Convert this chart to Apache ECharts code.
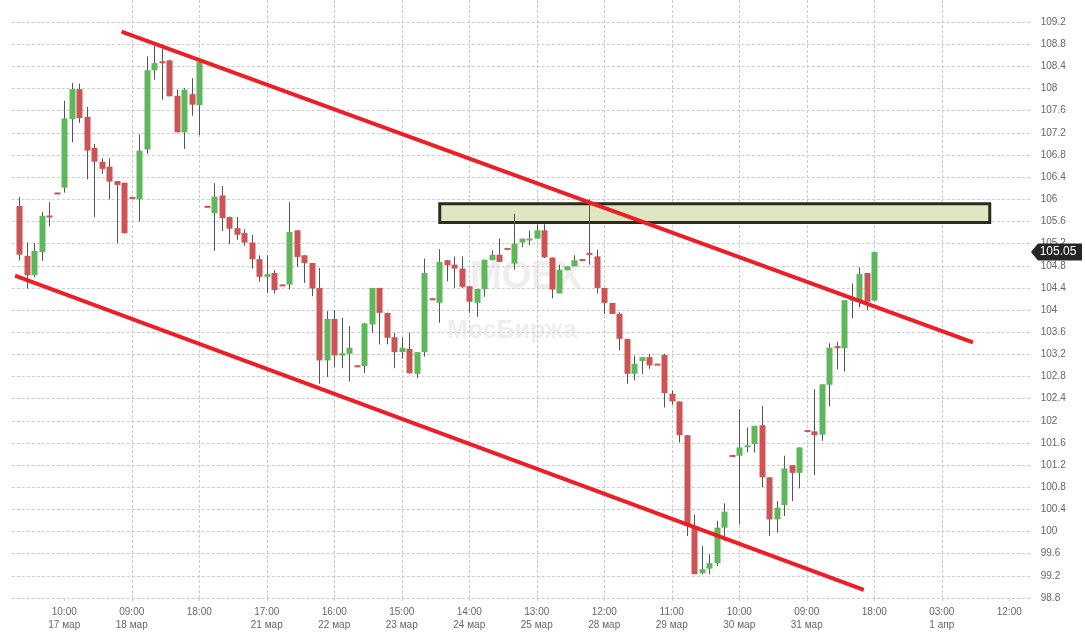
<!DOCTYPE html>
<html><head><meta charset="utf-8">
<script src="https://cdn.jsdelivr.net/npm/echarts@6/dist/echarts.min.js"></script>
<style>html,body{margin:0;padding:0;background:#fff}#c{width:1085px;height:641px}</style>
</head><body><div id="c"></div>
<script>
// ---- data (hourly candles, bar index 0..114) ----
const opens = [105.88,104.98,104.63,105.05,105.70,106.11,106.21,107.45,107.99,107.49,
  106.93,106.68,106.59,106.33,106.30,106.03,106.00,106.90,108.33,108.48,
  108.51,107.87,107.21,107.90,107.70,105.87,105.75,106.07,105.68,105.48,
  105.39,105.22,104.92,104.60,104.67,104.45,104.46,105.44,104.99,104.85,
  104.40,103.09,103.84,103.18,103.21,102.99,102.99,103.74,104.40,103.95,
  103.51,103.24,103.30,102.85,103.24,104.20,104.13,104.90,104.82,104.75,
  104.43,104.13,104.38,104.90,105.00,105.11,104.84,105.22,105.26,105.29,
  105.44,104.95,104.30,104.72,104.79,104.91,105.02,104.97,104.40,104.13,
  103.93,103.48,102.85,103.08,103.15,103.02,103.19,102.49,102.35,101.74,
  100.10,99.25,99.33,99.43,100.07,101.37,101.37,101.53,101.58,101.92,
  100.98,100.22,100.48,101.20,101.06,101.82,101.81,101.75,102.65,103.34,
  103.31,104.18,104.18,104.67,104.17];
const closes = [105.00,104.63,105.07,105.70,105.68,106.10,107.46,107.99,107.47,106.88,
  106.68,106.55,106.32,106.26,105.39,106.02,106.88,108.33,108.46,108.47,
  107.86,107.21,107.98,107.71,108.48,105.86,106.05,105.66,105.47,105.36,
  105.22,104.92,104.60,104.65,104.36,104.44,105.41,104.96,104.85,104.39,
  103.09,103.84,103.18,103.22,103.32,102.98,103.76,104.40,103.95,103.50,
  103.24,103.32,102.86,103.24,104.67,104.19,104.87,104.81,104.75,104.42,
  104.15,104.38,104.91,105.00,104.87,105.10,105.20,105.29,105.29,105.44,
  104.95,104.37,104.73,104.79,104.90,104.90,105.01,104.40,104.13,103.93,
  103.48,102.85,103.03,103.15,103.00,103.01,102.50,102.35,101.74,100.10,
  99.23,99.32,99.43,100.07,100.36,101.36,101.52,101.55,101.91,100.98,
  100.22,100.43,101.14,101.06,101.52,101.81,101.74,102.66,103.32,103.32,
  104.18,104.20,104.65,104.15,105.05];
const lows = [104.90,104.39,104.59,104.89,105.51,106.10,106.12,107.03,107.38,106.36,
  105.68,106.46,106.00,105.21,105.38,106.02,105.60,106.82,108.16,107.80,
  107.86,107.21,106.91,107.51,107.16,105.86,105.07,105.43,105.19,105.27,
  105.16,104.75,104.51,104.31,104.30,104.44,104.37,104.78,104.49,104.25,
  102.67,102.79,102.97,102.95,102.71,102.98,102.86,103.59,103.38,103.38,
  102.95,103.12,102.85,102.77,103.16,104.19,103.77,104.52,104.40,104.40,
  103.95,103.88,104.24,104.90,104.87,105.10,104.73,105.14,105.17,105.29,
  104.94,104.21,104.30,104.72,104.79,104.90,104.82,104.30,103.93,103.93,
  103.27,102.67,102.73,102.85,102.94,103.01,102.24,102.29,101.61,99.92,
  99.23,99.23,99.23,99.38,99.83,101.36,100.13,101.43,101.43,100.80,
  99.92,99.98,100.28,100.55,100.78,101.81,101.02,101.64,102.26,102.93,
  102.89,103.85,104.05,104.00,104.17];
const highs = [106.04,105.22,105.21,105.77,105.95,106.12,107.78,108.10,108.09,107.67,
  107.00,106.74,106.74,106.33,106.30,106.04,107.17,108.58,108.77,108.72,
  108.52,107.98,108.01,108.19,108.50,105.88,106.29,106.24,105.69,105.68,
  105.46,105.36,104.99,104.99,104.72,104.46,105.95,105.44,104.99,104.85,
  104.76,103.98,104.00,103.86,103.71,103.00,103.77,104.40,104.40,103.95,
  103.59,103.51,103.59,103.24,104.93,104.21,105.10,104.90,104.97,104.97,
  104.43,104.38,104.91,105.08,105.29,105.12,105.74,105.29,105.44,105.55,
  105.55,104.95,104.82,104.79,104.99,104.92,106.00,105.09,104.40,104.13,
  103.96,103.48,103.18,103.15,103.21,103.03,103.21,102.55,102.35,101.74,
  100.31,99.74,99.59,100.19,100.51,101.38,102.21,101.88,101.91,102.27,
  100.98,100.55,101.37,101.20,101.52,101.83,102.57,102.66,103.40,103.43,
  104.18,104.48,104.77,104.67,105.05];
const tickLabels = ['10:00\n17 мар','09:00\n18 мар','18:00','17:00\n21 мар','16:00\n22 мар',
  '15:00\n23 мар','14:00\n24 мар','13:00\n25 мар','12:00\n28 мар','11:00\n29 мар',
  '10:00\n30 мар','09:00\n31 мар','18:00','03:00\n1 апр','12:00'];
const firstTickBar = 6, tickEvery = 9;      // bar index of first tick label, bars per tick
const totalSlots = 137;                      // hourly slots on the axis (1 leading blank)
const lastPrice = 105.05;
const upperTrend = [[13.9, 109.015], [126.9, 103.43]];   // [bar index, price]
const lowerTrend = [[-0.31, 104.61], [112.36, 98.96]];
const zone = [56.07, 105.58, 129.4, 105.92];              // bar from, price low, bar to, price high

const GREEN = '#5fb75b', RED = '#cc5454', WICK = '#555', TREND = '#ee1d26';
const slot = b => b + 1;
const candleData = opens.map((o, i) => [slot(i), o, closes[i], lows[i], highs[i]]);
const cats = Array.from({length: totalSlots}, (_, k) => 's' + k);
const labelMap = {};
tickLabels.forEach((t, k) => { labelMap[slot(firstTickBar + k * tickEvery)] = t; });
const isTick = idx => labelMap[idx] !== undefined;

const chart = echarts.init(document.getElementById('c'), null, {renderer: 'canvas'});
const dashed = {color: '#cbcbcb', type: [3, 2], width: 1};
const watermark = [
  {type: 'text', z: -10, left: 470, top: 259, silent: true,
   style: {text: 'MOEX', fill: '#eeeeee', font: 'bold 38px "Liberation Sans", Arial'}},
  {type: 'text', z: -10, left: 447, top: 319, silent: true,
   style: {text: 'МосБиржа', fill: '#eeeeee', font: 'bold 25px "Liberation Sans", Arial'}}
];
chart.setOption({
  animation: false,
  backgroundColor: '#fff',
  grid: {left: 11.75, right: 53.25, top: 0, bottom: 43},
  xAxis: [{
    type: 'category', data: cats, boundaryGap: false,
    axisLine: {show: false},
    axisTick: {show: true, interval: (i) => isTick(i), length: 5, lineStyle: dashed},
    axisLabel: {interval: (i) => isTick(i), formatter: (v, i) => labelMap[i] || '',
      color: '#666', fontFamily: 'Liberation Sans, Arial', fontSize: 10, lineHeight: 13, margin: 8},
    splitLine: {show: true, showMinLine: false, showMaxLine: false, interval: (i) => isTick(i), lineStyle: dashed}
  }, {
    type: 'value', min: 0, max: totalSlots - 1, show: false
  }],
  yAxis: [{
    type: 'value', position: 'right', min: 98.8, max: 109.6, interval: 0.4, scale: true,
    axisLine: {show: false}, axisTick: {show: false},
    axisLabel: {showMaxLabel: false, color: '#666', fontFamily: 'Liberation Sans, Arial', fontSize: 10, margin: 9,
      formatter: v => String(Math.round(v * 10) / 10)},
    splitLine: {show: true, showMaxLine: false, lineStyle: dashed}
  }],
  graphic: watermark,
  series: [{
    type: 'custom', xAxisIndex: 1, yAxisIndex: 0, z: 1,
    data: [zone.map((v, i) => i % 2 === 0 ? slot(v) : v)],
    encode: {x: [0, 2], y: [1, 3]},
    renderItem: (params, api) => {
      const a = api.coord([api.value(0), api.value(3)]);
      const b = api.coord([api.value(2), api.value(1)]);
      return {type: 'rect', shape: {x: a[0], y: a[1], width: b[0] - a[0], height: b[1] - a[1]},
        style: {fill: '#e0e6c2', stroke: '#2b2b1f', lineWidth: 3}};
    }
  }, {
    type: 'custom', xAxisIndex: 0, yAxisIndex: 0, z: 2,
    data: candleData,
    encode: {x: 0, y: [1, 2, 3, 4]},
    renderItem: (params, api) => {
      const x = api.value(0), o = api.value(1), c = api.value(2), l = api.value(3), h = api.value(4);
      const pO = api.coord([x, o]), pC = api.coord([x, c]);
      const pL = api.coord([x, l]), pH = api.coord([x, h]);
      const w = Math.round(api.size([1, 0])[0] * 0.8);
      const cx = Math.round(pO[0]);
      const up = c > o;
      let top = Math.min(pO[1], pC[1]);
      let hgt = Math.abs(pO[1] - pC[1]);
      if (hgt < 2) { top = (pO[1] + pC[1]) / 2 - 1; hgt = 2; }
      const children = [];
      if (Math.abs(pH[1] - pL[1]) > 0.8) {
        children.push({type: 'line', shape: {x1: cx + 0.5, y1: pH[1], x2: cx + 0.5, y2: pL[1]},
          style: {stroke: WICK, lineWidth: 1}});
      }
      children.push({type: 'rect', shape: {x: cx - w / 2 + 0.5, y: top, width: w, height: hgt},
        style: {fill: up ? GREEN : RED}});
      return {type: 'group', children};
    }
  }, {
    type: 'line', xAxisIndex: 1, yAxisIndex: 0, z: 3, symbol: 'none', silent: true,
    data: upperTrend.map(p => [slot(p[0]), p[1]]),
    lineStyle: {color: TREND, width: 4, cap: 'square'}
  }, {
    type: 'line', xAxisIndex: 1, yAxisIndex: 0, z: 3, symbol: 'none', silent: true,
    data: lowerTrend.map(p => [slot(p[0]), p[1]]),
    lineStyle: {color: TREND, width: 4, cap: 'square'}
  }]
});

// last-price tag on the price axis
const py = chart.convertToPixel({yAxisIndex: 0}, lastPrice);
const gx = 1028;
chart.setOption({graphic: watermark.concat([
  {type: 'polygon', z: 100, shape: {points: [[gx + 3, py], [gx + 10, py - 8.5], [gx + 54, py - 8.5], [gx + 54, py + 8.5], [gx + 10, py + 8.5]]},
   style: {fill: '#262626'}},
  {type: 'text', z: 101, x: gx + 30, y: py, style: {text: lastPrice.toFixed(2), fill: '#fff',
   font: '12px "Liberation Sans", Arial', align: 'center', verticalAlign: 'middle'}}
])});
</script></body></html>
